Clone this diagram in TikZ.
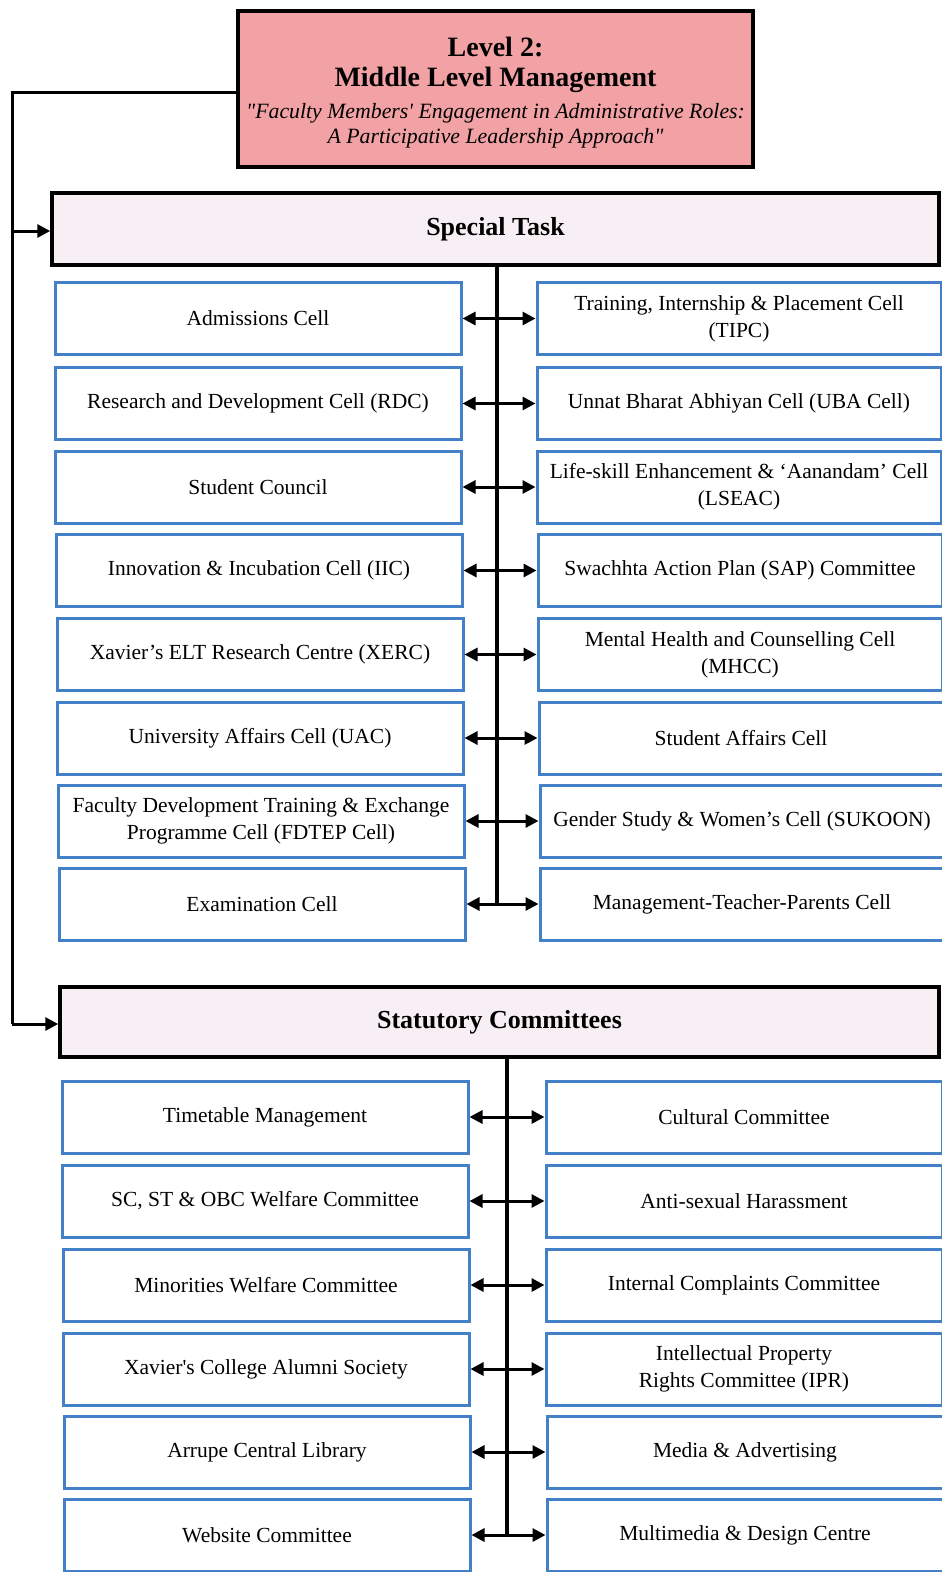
\documentclass[tikz,border=0pt]{standalone}
\usepackage{fontspec}
\setmainfont{Liberation Serif}
\usetikzlibrary{arrows.meta}
\definecolor{toppink}{RGB}{242,162,164}
\definecolor{headfill}{RGB}{247,239,243}
\definecolor{cellblue}{RGB}{68,128,200}
\tikzset{
  cell/.style={draw=cellblue, line width=3pt, fill=white, minimum height=72pt, align=center, inner sep=2pt, font=\fontsize{21.5}{27}\selectfont},
  headbox/.style={draw=black, line width=3.5pt, fill=headfill, font=\bfseries\fontsize{26}{30}\selectfont},
  titletext/.style={inner sep=0pt, font=\bfseries\fontsize{28}{34}\selectfont},
  subtext/.style={inner sep=0pt, font=\itshape\fontsize{21.8}{25}\selectfont},
  conn/.style={line width=3pt, black},
  biarrow/.style={line width=3pt, black, {Triangle[length=13pt,width=13pt]}-{Triangle[length=13pt,width=13pt]}},
  onearrow/.style={line width=3pt, black, -{Triangle[length=13pt,width=13pt]}}
}
\begin{document}
\begin{tikzpicture}[x=1pt,y=-1pt]
\useasboundingbox (0,0) rectangle (942,1572);
\fill[white] (0,0) rectangle (942,1572);

% top box
\node[draw=black, line width=3.5pt, fill=toppink, minimum width=515pt, minimum height=156pt, inner sep=0pt] (top) at (495.5,89) {};
\node[titletext] (topA) at (495.5,47) {Level 2:};
\node[titletext] (topB) at (495.5,80) {Middle Level Management};
\node[subtext] (topC) at (495.5,113) {\textquotedbl Faculty Members\textquotesingle\ Engagement in Administrative Roles:};
\node[subtext] (topD) at (495.5,138) {A Participative Leadership Approach\textquotedbl};

% headers
\node[headbox, minimum width=887pt, minimum height=72pt] (special) at (495.5,229) {Special Task};
\node[headbox, minimum width=879pt, minimum height=70pt] (stat) at (499.5,1022) {Statutory Committees};

% special task cells
\node[cell, minimum width=406pt] (l1) at (258,318.5) {Admissions Cell};
\node[cell, minimum width=406pt] (l2) at (258,403.5) {Research and Development Cell (RDC)};
\node[cell, minimum width=406pt] (l3) at (258,487) {Student Council};
\node[cell, minimum width=406pt] (l4) at (259,570.5) {Innovation \& Incubation Cell (IIC)};
\node[cell, minimum width=406pt] (l5) at (260,654.5) {Xavier’s ELT Research Centre (XERC)};
\node[cell, minimum width=406pt] (l6) at (260,738) {University Affairs Cell (UAC)};
\node[cell, minimum width=406pt] (l7) at (261,821) {Faculty Development Training \& Exchange\\Programme Cell (FDTEP Cell)};
\node[cell, minimum width=406pt] (l8) at (262,904) {Examination Cell};

\node[cell, minimum width=404pt] (r1) at (739,318.5) {Training, Internship \& Placement Cell\\(TIPC)};
\node[cell, minimum width=404pt] (r2) at (739,403.5) {Unnat Bharat Abhiyan Cell (UBA Cell)};
\node[cell, minimum width=404pt] (r3) at (739,487) {Life-skill Enhancement \& ‘Aanandam’ Cell\\(LSEAC)};
\node[cell, minimum width=404pt] (r4) at (740,570.5) {Swachhta Action Plan (SAP) Committee};
\node[cell, minimum width=404pt] (r5) at (740,654.5) {Mental Health and Counselling Cell\\(MHCC)};
\node[cell, minimum width=404pt] (r6) at (741,738) {Student Affairs Cell};
\node[cell, minimum width=404pt] (r7) at (742,821) {Gender Study \& Women’s Cell (SUKOON)};
\node[cell, minimum width=404pt] (r8) at (742,904) {Management-Teacher-Parents Cell};

% statutory cells
\node[cell, minimum width=406pt] (s1) at (265,1117) {Timetable Management};
\node[cell, minimum width=406pt] (s2) at (265,1201) {SC, ST \& OBC Welfare Committee};
\node[cell, minimum width=406pt] (s3) at (266,1285) {Minorities Welfare Committee};
\node[cell, minimum width=406pt] (s4) at (266,1369) {Xavier\textquotesingle s College Alumni Society};
\node[cell, minimum width=406pt] (s5) at (267,1452) {Arrupe Central Library};
\node[cell, minimum width=406pt] (s6) at (267,1535) {Website Committee};

\node[cell, minimum width=396pt] (t1) at (744,1117) {Cultural Committee};
\node[cell, minimum width=396pt] (t2) at (744,1201) {Anti-sexual Harassment};
\node[cell, minimum width=396pt] (t3) at (744,1285) {Internal Complaints Committee};
\node[cell, minimum width=396pt] (t4) at (744,1369) {Intellectual Property\\Rights Committee (IPR)};
\node[cell, minimum width=396pt] (t5) at (745,1452) {Media \& Advertising};
\node[cell, minimum width=396pt] (t6) at (745,1535) {Multimedia \& Design Centre};

% left feeder line
\coordinate (jtop) at (12,92);
\coordinate (jspec) at (12,231);
\coordinate (jstat) at (12,1024);
\draw[conn] (top.west |- jtop) -- (jtop) -- (jstat);
\draw[onearrow] (jspec) -- (special.west |- jspec);
\draw[onearrow] (jstat) -- (stat.west |- jstat);

% trunks
\coordinate (trunkA) at (497,904);
\coordinate (trunkB) at (507,1535);
\draw[conn, line width=3.5pt] (special.south -| trunkA) -- (trunkA);
\draw[conn, line width=3.5pt] (stat.south -| trunkB) -- (trunkB);

\foreach \i in {1,...,8} { \draw[biarrow] (l\i.east) -- (r\i.west); }
\foreach \i in {1,...,6} { \draw[biarrow] (s\i.east) -- (t\i.west); }
\end{tikzpicture}
\end{document}
